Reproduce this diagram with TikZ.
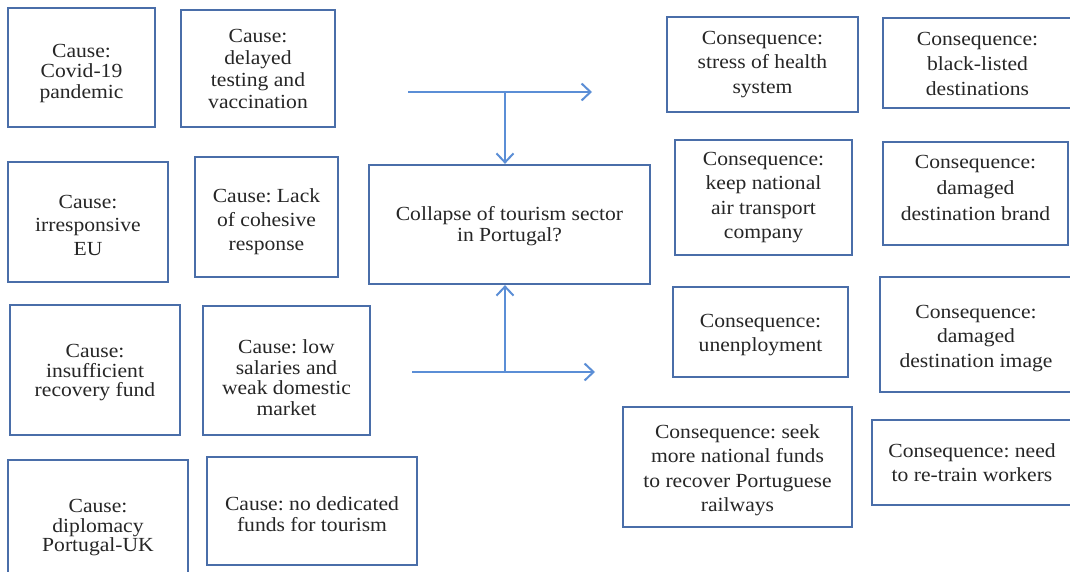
\documentclass[tikz,border=0pt]{standalone}
\usepackage{fontspec}
\setmainfont[FakeStretch=1.08]{Liberation Serif}
\usetikzlibrary{arrows.meta}
\definecolor{boxblue}{HTML}{4A6EA9}
\definecolor{arrblue}{HTML}{5B8ED6}
\definecolor{txt}{HTML}{262626}
\frenchspacing
\tikzset{
  bx/.style={draw=boxblue, line width=2.3pt, fill=white, inner sep=0pt},
  tx/.style={inner sep=0pt, align=center, text=txt, font=\fontsize{20}{22}\selectfont},
  lsp/.style={font=\fontsize{20}{#1}\selectfont},
  conn/.style={draw=arrblue, line width=2pt},
  tip/.style={-{Straight Barb[length=9pt,width=17pt,line width=2pt]}}
}
\begin{document}
\begin{tikzpicture}[x=1pt,y=-1pt]
\useasboundingbox[fill=white] (0,0) rectangle (1070,572);
% causes
\node[bx, minimum width=147pt, minimum height=119pt,
  label={[tx, lsp=20.5, yshift=-6pt]center:{Cause:\\Covid-19\\pandemic}}] (ca1) at (81.5,67.5) {};
\node[bx, minimum width=154pt, minimum height=117pt,
  label={[tx, lsp=22]center:{Cause:\\delayed\\testing and\\vaccination}}] (ca2) at (258,68.5) {};
\node[bx, minimum width=160pt, minimum height=120pt,
  label={[tx, lsp=23.5, yshift=-3pt]center:{Cause:\\irresponsive\\EU}}] (ca3) at (88,222) {};
\node[bx, minimum width=143pt, minimum height=120pt,
  label={[tx, lsp=24, yshift=-5pt]center:{Cause: Lack\\of cohesive\\response}}] (ca4) at (266.5,217) {};
\node[bx, minimum width=170pt, minimum height=130pt,
  label={[tx, lsp=19.5, yshift=-3pt]center:{Cause:\\insufficient\\recovery fund}}] (ca5) at (95,370) {};
\node[bx, minimum width=167pt, minimum height=129pt,
  label={[tx, lsp=20.5, yshift=-7pt]center:{Cause: low\\salaries and\\weak domestic\\market}}] (ca6) at (286.5,370.5) {};
\node[bx, minimum width=180pt, minimum height=116pt,
  label={[tx, lsp=19.5, yshift=-10pt]center:{Cause:\\diplomacy\\Portugal-UK}}] (ca7) at (98,518) {};
\node[bx, minimum width=210pt, minimum height=108pt,
  label={[tx, lsp=20.5, yshift=-3pt]center:{Cause: no dedicated\\funds for tourism}}] (ca8) at (312,511) {};
% centre
\node[bx, minimum width=281pt, minimum height=119pt,
  label={[tx, lsp=21, yshift=-2pt]center:{Collapse of tourism sector\\in Portugal?}}] (ctr) at (509.5,224.5) {};
% consequences
\node[bx, minimum width=191pt, minimum height=95pt,
  label={[tx, lsp=24.5]center:{Consequence:\\stress of health\\system}}] (co1) at (762.5,64.5) {};
\node[bx, minimum width=189pt, minimum height=90pt,
  label={[tx, lsp=25, yshift=-1pt]center:{Consequence:\\black-listed\\destinations}}] (co2) at (977.5,63) {};
\node[bx, minimum width=177pt, minimum height=115pt,
  label={[tx, lsp=24.5]center:{Consequence:\\keep national\\air transport\\company}}] (co3) at (763.5,197.5) {};
\node[bx, minimum width=185pt, minimum height=103pt,
  label={[tx, lsp=26, yshift=6pt]center:{Consequence:\\damaged\\destination brand}}] (co4) at (975.5,193.5) {};
\node[bx, minimum width=175pt, minimum height=90pt,
  label={[tx, lsp=24, yshift=-3pt]center:{Consequence:\\unenployment}}] (co5) at (760.5,332) {};
\node[bx, minimum width=192pt, minimum height=115pt,
  label={[tx, lsp=24.5, yshift=-4pt]center:{Consequence:\\damaged\\destination image}}] (co6) at (976,334.5) {};
\node[bx, minimum width=229pt, minimum height=120pt,
  label={[tx, lsp=24.5, yshift=-3pt]center:{Consequence: seek\\more national funds\\to recover Portuguese\\railways}}] (co7) at (737.5,467) {};
\node[bx, minimum width=200pt, minimum height=85pt,
  label={[tx, lsp=23.5]center:{Consequence: need\\to re-train workers}}] (co8) at (972,462.5) {};
% connectors
\coordinate (t1) at (408,92);
\coordinate (t2) at (592,92);
\coordinate (tj) at (505,92);
\coordinate (b1) at (412,372);
\coordinate (b2) at (595,372);
\coordinate (bj) at (505,372);
\draw[conn, tip] (t1) -- (t2);
\draw[conn, tip] (tj) -- (tj |- ctr.north);
\draw[conn, tip] (b1) -- (b2);
\draw[conn, tip] (bj) -- (bj |- ctr.south);
\end{tikzpicture}
\end{document}
